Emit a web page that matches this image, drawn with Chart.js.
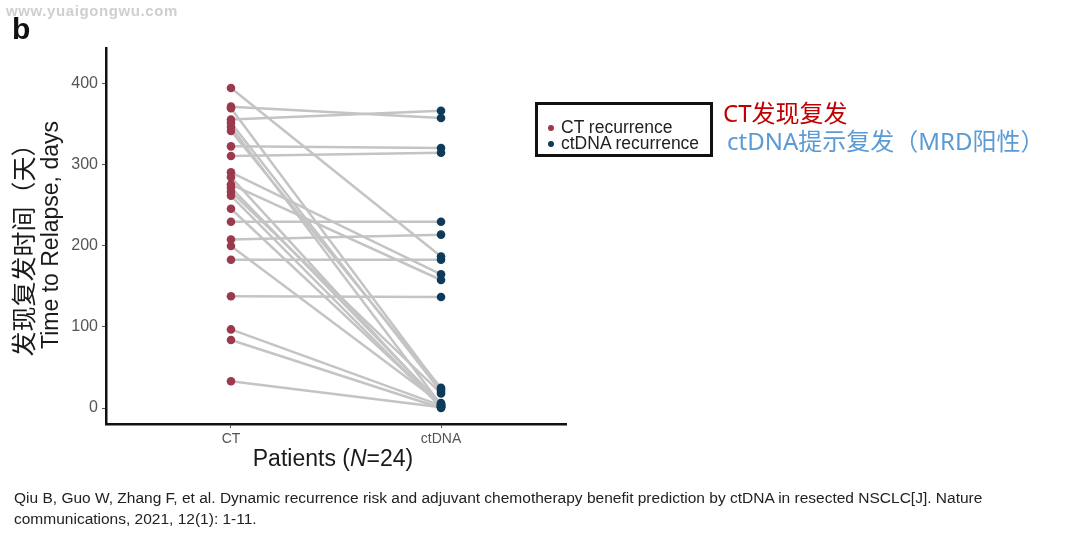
<!DOCTYPE html>
<html>
<head>
<meta charset="utf-8">
<script src="https://cdn.jsdelivr.net/npm/chart.js@4.4.1/dist/chart.umd.min.js"></script>
<style>
  html, body { margin: 0; padding: 0; background: #fff; }
  #wrap { position: relative; width: 1080px; height: 537px; overflow: hidden; font-family: "Liberation Sans", Arial, sans-serif; }
  #c { position: absolute; left: 0; top: 0; }
  .abs { position: absolute; white-space: nowrap; }
  #wm { left: 6px; top: 2px; font-size: 15px; font-weight: bold; color: #cfcfcf; letter-spacing: 0.6px; }
  #tag { left: 12px; top: 12px; font-size: 30px; font-weight: bold; color: #111; }
  #legend { left: 535px; top: 102px; width: 172px; height: 49px; border: 3px solid #111; }
  .row { position: absolute; left: 0; font-size: 17.5px; color: #222; line-height: 17px; }
  .dot { position: absolute; width: 6px; height: 6px; border-radius: 50%; left: 10px; top: 6px; }
  .row span.t { position: absolute; left: 23px; top: 0; }
  .ann { font-family: "Noto Sans", "Noto Sans CJK SC", sans-serif; font-size: 24px; line-height: 30px; }
  #ann1 { left: 723px; top: 98px; color: #c00000; }
  #ann2 { left: 727px; top: 126px; color: #5b9bd5; }
  .cite { left: 14px; font-size: 15.5px; color: #222; }
</style>
</head>
<body>
<div id="wrap">
  <canvas id="c" width="1080" height="537"></canvas>
  <div class="abs" id="wm">www.yuaigongwu.com</div>
  <div class="abs" id="tag">b</div>
  <div class="abs" id="legend">
    <div class="row" style="top:14px; width:170px;"><div class="dot" style="background:#9b3a4c"></div><span class="t">CT recurrence</span></div>
    <div class="row" style="top:30px; width:170px;"><div class="dot" style="background:#0e3b5c"></div><span class="t">ctDNA recurrence</span></div>
  </div>
  <div class="abs ann" id="ann1">CT发现复发</div>
  <div class="abs ann" id="ann2">ctDNA提示复发（MRD阳性）</div>
  <div class="abs cite" style="top:489px;">Qiu B, Guo W, Zhang F, et al. Dynamic recurrence risk and adjuvant chemotherapy benefit prediction by ctDNA in resected NSCLC[J]. Nature</div>
  <div class="abs cite" style="top:510px;">communications, 2021, 12(1): 1-11.</div>
</div>
<script>
// one entry per patient: days to relapse found by CT, and by ctDNA
const categories = ['CT', 'ctDNA'];
const ctDays    = [395, 372, 370, 356, 352, 347, 342, 323, 311, 291, 285, 276, 272, 267, 262, 246, 230, 208, 200, 183, 138, 97, 84, 33];
const ctdnaDays = [187, 358, 23, 367, 20, 4, 25, 321, 315, 165, 2, 158, 5, 18, 1, 3, 230, 214, 6, 183, 137, 3, 0, 1];
const yTicks = [0, 100, 200, 300, 400];

const ctColor = '#9b3a4c';
const ctdnaColor = '#0e3b5c';
const lineColor = '#c4c4c4';

const datasets = [];
// grey connecting lines, one per patient
ctDays.forEach(function(v, i) {
    datasets.push({
        data: [{x: 1, y: v}, {x: 2, y: ctdnaDays[i]}],
        showLine: true,
        borderColor: lineColor,
        borderWidth: 2.5,
        pointRadius: 0,
        order: 2
    });
});
// points on top
datasets.push({
    label: 'CT recurrence',
    data: ctDays.map(v => ({x: 1, y: v})),
    backgroundColor: ctColor,
    pointRadius: 4.3,
    pointBorderWidth: 0,
    order: 0
});
datasets.push({
    label: 'ctDNA recurrence',
    data: ctdnaDays.map(v => ({x: 2, y: v})),
    backgroundColor: ctdnaColor,
    pointRadius: 4.3,
    pointBorderWidth: 0,
    order: 0
});

// axis titles (mixed fonts / italic N)
const titles = {
    id: 'titles',
    afterDraw(chart) {
        const ctx = chart.ctx;
        ctx.save();
        ctx.fillStyle = '#1a1a1a';
        ctx.textAlign = 'center';
        ctx.textBaseline = 'middle';
        // y title
        ctx.save();
        ctx.translate(23, 244);
        ctx.rotate(-Math.PI / 2);
        ctx.font = '25px "Noto Sans CJK SC"';
        ctx.fillText('发现复发时间（天）', 0, 0);
        ctx.restore();
        ctx.save();
        ctx.translate(52, 235);
        ctx.rotate(-Math.PI / 2);
        ctx.font = '23px "Liberation Sans"';
        ctx.fillText('Time to Relapse, days', 0, 0);
        ctx.restore();
        // x title
        const parts = [['Patients (', '23px "Liberation Sans"'], ['N', 'italic 23px "Liberation Sans"'], ['=24)', '23px "Liberation Sans"']];
        let total = 0;
        parts.forEach(p => { ctx.font = p[1]; total += ctx.measureText(p[0]).width; });
        let x = 333 - total / 2;
        ctx.textAlign = 'left';
        parts.forEach(p => { ctx.font = p[1]; ctx.fillText(p[0], x, 460); x += ctx.measureText(p[0]).width; });
        ctx.restore();
    }
};

const chart = new Chart(document.getElementById('c'), {
    type: 'scatter',
    data: { datasets: datasets },
    options: {
        responsive: false,
        animation: false,
        devicePixelRatio: 1,
        layout: { padding: { left: 0, top: 48, right: 514, bottom: 0 } },
        plugins: { legend: { display: false }, tooltip: { enabled: false } },
        scales: {
            x: {
                type: 'linear',
                min: 0.405,
                max: 2.595,
                afterBuildTicks: axis => { axis.ticks = [{value: 1}, {value: 2}]; },
                afterFit: axis => { axis.height = 113; },
                grid: { drawOnChartArea: false, drawTicks: true, tickLength: 4, color: '#555' },
                border: { display: true, color: '#111', width: 2.5 },
                ticks: {
                    padding: 3,
                    color: '#555',
                    font: { family: 'Liberation Sans', size: 14 },
                    callback: v => categories[v - 1]
                }
            },
            y: {
                min: -19.75,
                max: 444.4,
                afterBuildTicks: axis => { axis.ticks = yTicks.map(v => ({value: v})); },
                afterFit: axis => { axis.width = 106; },
                grid: { drawOnChartArea: false, drawTicks: true, tickLength: 4, color: '#555' },
                border: { display: true, color: '#111', width: 2.5 },
                ticks: {
                    padding: 4,
                    color: '#555',
                    font: { family: 'Liberation Sans', size: 16 }
                }
            }
        }
    },
    plugins: [titles]
});
</script>
</body>
</html>
